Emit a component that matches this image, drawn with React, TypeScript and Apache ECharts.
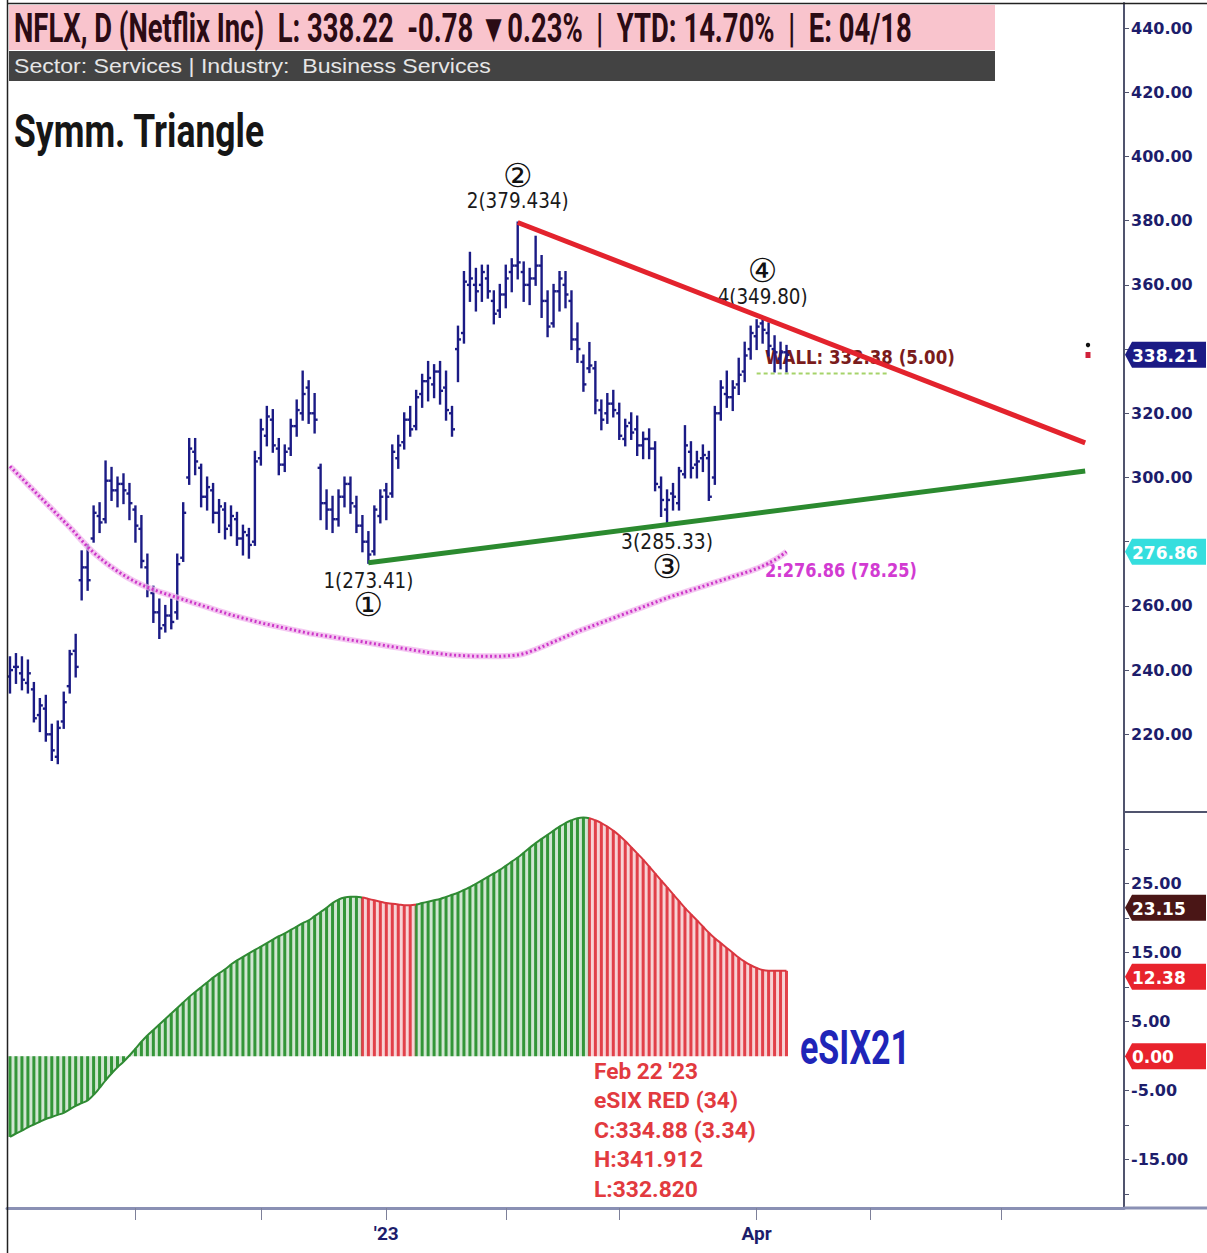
import React, { useEffect, useRef } from "react";
import * as echarts from "echarts";

const W = 1207;
const H = 1253;

// ---- category slots (one per trading day from Oct 3 2022, extended into the future) ----
const slotCount = 187;
const categories = Array.from({ length: slotCount }, (_, i) => `d${i}`);
const monthStartIdx = [21, 42, 63, 83, 102, 125, 144, 166];
const monthTickLabels = ["", "", "'23", "", "", "Apr", "", ""];

// ---- daily OHLC (NFLX) ----
const opens = [238,241,239,236,234,226,228,220,213,224,235,246,268,272,281,288,287,299,296,298,295,290,284,272,264,258,254,257,258,275,300,308,303,294,296,289,290,285,287,281,282,280,306,313,318,309,304,309,316,320,328,320,303,292,290,287,294,298,291,285,280,277,288,296,295,306,311,318,316,326,330,329,333,328,320,340,345,360,360,360,362,355,352,357,364,366,364,360,362,366,355,348,358,360,355,343,336,334,334,321,320,323,320,312,317,315,310,312,309,297,290,295,292,301,308,304,306,306,300,320,326,325,329,333,340,344,348,345,340,337,339];
const highs = [244,245,244,243,236,231,232,223,224,233,246,251,277,279,291,292,305,303,300,301,298,291,288,276,266,262,260,262,276,292,312,312,304,300,298,293,292,291,289,285,284,308,318,322,321,312,310,318,324,333,330,326,304,296,294,296,300,300,294,288,283,291,296,298,310,313,320,322,327,332,336,335,336,333,322,347,364,370,365,366,366,358,360,366,368,379.43,367,365,375,369,358,360,364,364,358,348,338,341.91,336,324,326,327,323,318,320,319,314,315,311,300,296,298,303,316,311,308,310,308,322,330,333,330,337,342,347,349,349.8,348,344,342,341];
const lows = [233,236,234,233,224,221,218,212,211,222,233,238,262,265,280,283,286,293,291,292,287,280,272,263,255,250,252,253,256,274,298,301,291,290,286,283,281,282,279,276,275,279,304,310,308,301,302,307,313,318,317,314,287,284,283,285,291,289,283,277,273.41,276,286,287,294,303,309,313,315,322,324,325,323,318,313,330,342,355,352,355,356,348,350,353,358,362,355,354,360,350,344,347,352,353,340,336,327,332.82,320,315,317,319,312,310,312,307,306,306,296,288,285.33,290,290,300,300,300,302,293,298,318,322,321,326,330,337,340,342,338,333,334,333];
const closes = [240,241,237,239,225,229,220,215,222,230,245,241,272,268,289,286,299,296,298,296,292,285,274,265,258,253,257,255,273,289,309,305,294,297,289,291,284,288,281,283,279,305,315,319,310,304,308,316,321,326,320,318,292,290,287,294,298,292,285,280,276,290,294,294,308,310,318,315,325,330,331,333,327,321,315,343,361,362,358,364,358,351,357,362,366,367,360,362,366,355,347,358,362,357,343,340,329,334.88,324,318,323,321,313,316,314,310,312,309,298,293,293,294,302,310,303,305,307,294,320,328,325,328,332,338,345,347,346,341,339,339,338.22];

// ---- moving average (dotted magenta) ----
const movingAvg = [303.5,301.6,299.7,297.8,295.9,294.0,292.1,290.2,288.3,286.4,284.5,282.5,280.4,278.4,276.6,275.0,273.5,272.1,270.8,269.6,268.5,267.5,266.6,265.8,265.1,264.4,263.8,263.2,262.6,262.0,261.4,260.8,260.2,259.6,259.0,258.4,257.8,257.2,256.7,256.2,255.7,255.2,254.7,254.3,253.9,253.5,253.1,252.7,252.3,251.9,251.5,251.2,250.9,250.6,250.3,250.0,249.7,249.4,249.1,248.8,248.5,248.2,247.9,247.6,247.3,247.0,246.7,246.4,246.1,245.8,245.5,245.3,245.1,244.9,244.7,244.6,244.5,244.4,244.3,244.3,244.3,244.3,244.3,244.4,244.5,244.7,245.1,245.7,246.4,247.2,248.0,248.8,249.6,250.4,251.2,252.0,252.7,253.4,254.1,254.8,255.5,256.2,256.9,257.6,258.3,259.0,259.7,260.4,261.1,261.8,262.5,263.1,263.7,264.3,264.9,265.5,266.1,266.7,267.3,267.9,268.5,269.1,269.7,270.3,270.9,271.6,272.4,273.3,274.3,275.5,276.86];

// ---- eSIX21 oscillator ----
const esix = [-11.7,-11.2,-10.8,-10.3,-9.9,-9.5,-9.1,-8.8,-8.5,-8.2,-7.7,-7.2,-6.8,-6.4,-5.6,-4.6,-3.5,-2.5,-1.6,-0.8,0.1,1.1,2.1,3.0,3.8,4.6,5.4,6.2,7.0,7.8,8.6,9.3,10.0,10.7,11.4,12.0,12.6,13.3,13.9,14.4,14.9,15.4,15.9,16.4,16.9,17.4,17.8,18.3,18.8,19.3,19.7,20.3,20.9,21.5,22.2,22.7,23.0,23.1,23.1,23.0,22.8,22.6,22.4,22.2,22.1,22.0,21.9,21.9,22.0,22.2,22.4,22.6,22.8,23.1,23.4,23.7,24.1,24.5,25.0,25.5,26.0,26.5,27.0,27.6,28.2,28.8,29.5,30.2,30.9,31.5,32.1,32.7,33.3,33.8,34.2,34.5,34.6,34.5,34.2,33.8,33.3,32.7,32.0,31.2,30.3,29.4,28.5,27.5,26.5,25.5,24.5,23.5,22.5,21.5,20.6,19.7,18.8,17.9,17.1,16.4,15.7,15.0,14.3,13.7,13.2,12.8,12.5,12.4,12.4,12.38,12.38];
const esixRedRanges = [[59, 67], [97, 130]];

// ---- trend lines [slot index, price] ----
const resistanceLine = [[85, 379.43], [180, 310.8]];
const supportLine = [[60, 273.41], [180, 302.0]];
const wallLine = [[125, 332.38], [147, 332.38]];

// ---- axes ----
const priceTicks = [220, 240, 260, 280, 300, 320, 340, 360, 380, 400, 420, 440];
const priceLabels = [220, 240, 260, 300, 320, 360, 380, 400, 420, 440];
const oscTicks = [-20, -15, -10, -5, 0, 5, 10, 15, 20, 25, 30];
const oscLabels = [25, 15, 5, -5, -15];

// ---- pivots ----
const pivots = [
  { idx: 60, price: 273.41, text: "1(273.41)", circ: "①", below: true },
  { idx: 85, price: 379.43, text: "2(379.434)", circ: "②", below: false },
  { idx: 110, price: 285.33, text: "3(285.33)", circ: "③", below: true },
  { idx: 126, price: 349.8, text: "4(349.80)", circ: "④", below: false },
];

const infoLines = ["Feb 22 '23", "eSIX RED (34)", "C:334.88 (3.34)", "H:341.912", "L:332.820"];

const NAVY = "#1b1b85";
const GREEN = "#35993a";
const RED = "#e4434c";

const measureCtx = typeof document !== "undefined" ? document.createElement("canvas").getContext("2d") : null;
function fitScale(text: string, weight: string, size: number, family: string, width: number) {
  if (!measureCtx) return 1;
  measureCtx.font = `${weight} ${size}px ${family}`;
  const w = measureCtx.measureText(text).width;
  return w > 0 ? width / w : 1;
}

function txt(text: string, x: number, y: number, o: any) {
  const size = o.size || 20;
  const weight = o.weight || "normal";
  const family = o.family || "Roboto";
  const sx = o.width ? fitScale(text, weight, size, family, o.width) : 1;
  return {
    type: "text",
    x,
    y,
    scaleX: sx,
    z: o.z ?? 1,
    style: {
      text,
      fill: o.fill || "#111",
      fontSize: size,
      fontWeight: weight,
      fontFamily: family,
      align: o.align || "left",
      verticalAlign: "middle",
    },
  };
}

function valueBox(y: number, text: string, bg: string) {
  const x0 = 1125;
  const x1 = 1206;
  const h = 26;
  return [
    {
      type: "polygon",
      z: 100,
      shape: { points: [[x0, y], [x0 + 7, y - h / 2], [x1, y - h / 2], [x1, y + h / 2], [x0 + 7, y + h / 2]] },
      style: { fill: bg },
    },
    { ...txt(text, 1132, y + 1, { size: 17, weight: "bold", family: "DejaVu Sans", fill: "#ffffff" }), z: 101 },
  ];
}

function isRed(i: number) {
  return esixRedRanges.some(([a, b]) => i >= a && i <= b);
}

export default function App() {
  const ref = useRef<HTMLDivElement>(null);

  useEffect(() => {
    const chart = echarts.init(ref.current!, undefined, { renderer: "svg", width: W, height: H });

    const ohlcData = closes.map((c, i) => [i, opens[i], highs[i], lows[i], c]);

    const renderOHLC = (params: any, api: any) => {
      const i = api.value(0);
      const o = api.coord([i, api.value(1)]);
      const h = api.coord([i, api.value(2)]);
      const l = api.coord([i, api.value(3)]);
      const c = api.coord([i, api.value(4)]);
      const half = api.size([1, 0])[0] * 0.5;
      const st = { stroke: NAVY, lineWidth: 2.4 };
      return {
        type: "group",
        children: [
          { type: "line", shape: { x1: h[0], y1: h[1] - 1, x2: l[0], y2: l[1] + 1 }, style: st },
          { type: "line", shape: { x1: o[0] - half, y1: o[1], x2: o[0], y2: o[1] }, style: st },
          { type: "line", shape: { x1: c[0], y1: c[1], x2: c[0] + half, y2: c[1] }, style: st },
        ],
      };
    };

    const tickShown = (i: number) => monthStartIdx.includes(i);

    const option: any = {
      animation: false,
      backgroundColor: "#ffffff",
      grid: [
        { left: 7, top: 3, width: 1117, height: 809 },
        { left: 7, top: 812, width: 1117, height: 396 },
      ],
      xAxis: [
        { type: "category", gridIndex: 0, data: categories, boundaryGap: true, show: false },
        {
          type: "category",
          gridIndex: 1,
          data: categories,
          boundaryGap: true,
          position: "bottom",
          axisLine: { show: true, onZero: false, lineStyle: { color: "#8a90b4", width: 3 } },
          axisTick: {
            show: true,
            alignWithLabel: true,
            interval: (i: number) => tickShown(i),
            length: 12,
            lineStyle: { color: "#7d8099", width: 1 },
          },
          axisLabel: {
            interval: (i: number) => tickShown(i),
            formatter: (_v: string, i: number) => {
              const k = monthStartIdx.indexOf(i);
              return k >= 0 ? monthTickLabels[k] : "";
            },
            color: "#1d1d6b",
            fontFamily: "Roboto",
            fontWeight: "bold",
            fontSize: 19,
            margin: 16,
          },
          splitLine: { show: false },
        },
      ],
      yAxis: [
        {
          type: "value",
          gridIndex: 0,
          position: "right",
          min: 195.8,
          max: 447.8,
          axisLine: { show: true, lineStyle: { color: "#50546e", width: 2 } },
          axisTick: { show: true, length: 5, customValues: priceTicks, lineStyle: { color: "#50546e" } },
          axisLabel: {
            customValues: priceLabels,
            formatter: (v: number) => v.toFixed(2),
            color: "#1d1d6b",
            fontFamily: "DejaVu Sans",
            fontWeight: "bold",
            fontSize: 16,
            margin: 7,
          },
          splitLine: { show: false },
        },
        {
          type: "value",
          gridIndex: 1,
          position: "right",
          min: -22,
          max: 35.4,
          axisLine: { show: true, lineStyle: { color: "#50546e", width: 2 } },
          axisTick: { show: true, length: 5, customValues: oscTicks, lineStyle: { color: "#50546e" } },
          axisLabel: {
            customValues: oscLabels,
            formatter: (v: number) => v.toFixed(2),
            color: "#1d1d6b",
            fontFamily: "DejaVu Sans",
            fontWeight: "bold",
            fontSize: 16,
            margin: 7,
          },
          splitLine: { show: false },
        },
      ],
      visualMap: [
        {
          type: "piecewise",
          show: false,
          dimension: 0,
          seriesIndex: 7,
          pieces: [
            { lt: 58.5, color: "#2f8a33" },
            { gte: 58.5, lt: 67.5, color: "#d9363f" },
            { gte: 67.5, lt: 96.5, color: "#2f8a33" },
            { gte: 96.5, color: "#d9363f" },
          ],
        },
      ],
      series: [
        {
          type: "line",
          name: "MA halo",
          xAxisIndex: 0,
          yAxisIndex: 0,
          data: movingAvg,
          symbol: "none",
          silent: true,
          lineStyle: { color: "#f0b4ec", width: 6, opacity: 0.75 },
        },
        {
          type: "line",
          name: "MA",
          xAxisIndex: 0,
          yAxisIndex: 0,
          data: movingAvg,
          symbol: "none",
          lineStyle: { color: "#cc36c8", width: 3, type: [2, 2.5] },
        },
        {
          type: "custom",
          name: "NFLX",
          xAxisIndex: 0,
          yAxisIndex: 0,
          renderItem: renderOHLC,
          data: ohlcData,
          encode: { x: 0, y: [1, 2, 3, 4] },
        },
        {
          type: "line",
          name: "Wall",
          xAxisIndex: 0,
          yAxisIndex: 0,
          data: wallLine,
          symbol: "none",
          lineStyle: { color: "#a6d36a", width: 2, type: [4, 3] },
        },
        {
          type: "line",
          name: "Support",
          xAxisIndex: 0,
          yAxisIndex: 0,
          data: supportLine,
          symbol: "none",
          lineStyle: { color: "#2b8a2f", width: 5 },
        },
        {
          type: "line",
          name: "Resistance",
          xAxisIndex: 0,
          yAxisIndex: 0,
          data: resistanceLine,
          symbol: "none",
          lineStyle: { color: "#e3232d", width: 5 },
        },
        {
          type: "bar",
          name: "eSIX21",
          xAxisIndex: 1,
          yAxisIndex: 1,
          barWidth: 3,
          data: esix.map((v, i) => ({ value: v, itemStyle: { color: isRed(i) ? RED : GREEN } })),
        },
        {
          type: "line",
          name: "eSIX21 edge",
          xAxisIndex: 1,
          yAxisIndex: 1,
          data: esix,
          smooth: true,
          symbol: "none",
          lineStyle: { width: 2 },
          areaStyle: { opacity: 0.22 },
        },
      ],
    };

    chart.setOption(option);

    const P = (i: number, p: number) => chart.convertToPixel({ xAxisIndex: 0, yAxisIndex: 0 }, [i, p]) as number[];
    const yP = (p: number) => chart.convertToPixel({ yAxisIndex: 0 }, p) as number;
    const yO = (v: number) => chart.convertToPixel({ yAxisIndex: 1 }, v) as number;

    const elements: any[] = [];
    // header
    elements.push({ type: "rect", z: 1, shape: { x: 9, y: 5, width: 986, height: 45 }, style: { fill: "#f9c4cd" } });
    elements.push({ type: "rect", z: 1, shape: { x: 9, y: 51, width: 986, height: 30 }, style: { fill: "#434343" } });
    elements.push(
      txt("NFLX, D (Netflix Inc)  L: 338.22  -0.78 ▼0.23%  |  YTD: 14.70%  |  E: 04/18", 14, 28, {
        size: 40,
        weight: "bold",
        family: "Roboto",
        fill: "#2b0b14",
        width: 898,
        z: 2,
      })
    );
    elements.push(
      txt("Sector: Services | Industry:  Business Services", 14, 66, {
        size: 20,
        family: "Liberation Sans",
        fill: "#e6e6e6",
        width: 477,
        z: 2,
      })
    );
    elements.push(txt("Symm. Triangle", 14, 131, { size: 46, weight: "bold", family: "Roboto", fill: "#161616", width: 251 }));
    elements.push(txt("eSIX21", 800, 1047, { size: 48, weight: "bold", family: "Roboto", fill: "#1f25b8", width: 110 }));

    const infoWidths = [104, 144, 162, 109, 104];
    infoLines.forEach((t, k) => {
      elements.push(txt(t, 594, 1071 + k * 29.6, { size: 22, weight: "bold", family: "Roboto", fill: "#e23a3f", width: infoWidths[k] }));
    });

    // pivots
    const pivotWidths = [90, 102, 92, 90];
    pivots.forEach((pv, k) => {
      const [x, y] = P(pv.idx, pv.price);
      const ly = pv.below ? y + 18 : y - 21;
      const cy = pv.below ? y + 42 : y - 47;
      elements.push(txt(pv.text, x, ly, { size: 21, family: "DejaVu Sans", fill: "#1a1a1a", width: pivotWidths[k], align: "center" }));
      elements.push(txt(pv.circ, x, cy, { size: 33, family: "DejaVu Sans", fill: "#111111", align: "center" }));
    });

    // wall & MA labels
    elements.push(txt("WALL: 332.38 (5.00)", 765, yP(337.5), { size: 20, weight: "bold", family: "DejaVu Sans", fill: "#7a1c1c", width: 190 }));
    elements.push(txt("2:276.86 (78.25)", 765, yP(271.2), { size: 20, weight: "bold", family: "DejaVu Sans", fill: "#d23bd2", width: 152 }));

    // small markers at the right
    elements.push({ type: "circle", z: 3, shape: { cx: 1088, cy: 345, r: 2.2 }, style: { fill: "#111" } });
    elements.push({ type: "rect", z: 3, shape: { x: 1085.5, y: 352, width: 5, height: 6 }, style: { fill: "#d0213a" } });

    // frame
    elements.push({ type: "line", z: 5, shape: { x1: 7.5, y1: 0, x2: 7.5, y2: H }, style: { stroke: "#222", lineWidth: 1.5 } });
    elements.push({ type: "line", z: 5, shape: { x1: 7, y1: 3.5, x2: W, y2: 3.5 }, style: { stroke: "#222", lineWidth: 1.5 } });
    elements.push({ type: "line", z: 5, shape: { x1: 1124, y1: 812, x2: W, y2: 812 }, style: { stroke: "#50546e", lineWidth: 2 } });
    const axisY = yO(-22);
    elements.push({ type: "line", z: 5, shape: { x1: 1124, y1: axisY, x2: W, y2: axisY }, style: { stroke: "#8a90b4", lineWidth: 3 } });

    // value boxes on the axis
    elements.push(...valueBox(yP(338.21), "338.21", "#1b1b85"));
    elements.push(...valueBox(yP(276.86), "276.86", "#35dede"));
    elements.push(...valueBox(yO(25) + 24, "23.15", "#4a1616"));
    elements.push(...valueBox(yO(15) + 24, "12.38", "#e8232c"));
    elements.push(...valueBox(yO(0), "0.00", "#e8232c"));

    chart.setOption({ graphic: { elements } });

    return () => chart.dispose();
  }, []);

  return (
    <div
      ref={ref}
      style={{ position: "absolute", left: 0, top: 0, width: W, height: H, background: "#ffffff" }}
    />
  );
}
